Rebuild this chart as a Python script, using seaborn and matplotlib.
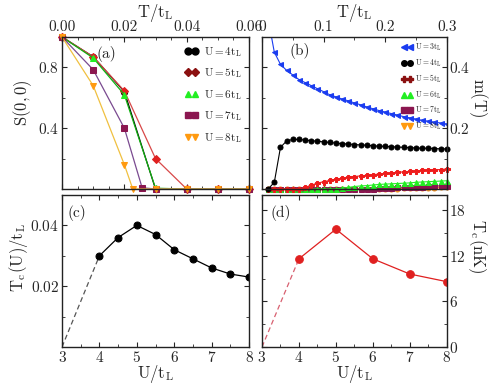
import matplotlib
matplotlib.use("Agg")
import matplotlib.pyplot as plt
import seaborn as sns
from matplotlib.lines import Line2D
from matplotlib.ticker import AutoMinorLocator, FormatStrFormatter, FixedLocator

# ---- panel (a): S(0,0) vs T/t_L ----
T_a = [0.0, 0.01, 0.02, 0.03, 0.04, 0.05, 0.06]
S_U4 = [1.0, 0.87, 0.64, 0.0, 0.0, 0.0, 0.0]
S_U5 = [1.0, 0.87, 0.645, 0.2, 0.0, 0.0, 0.0]
S_U6 = [1.0, 0.862, 0.62, 0.005, 0.0, 0.0, 0.0]
T_a7 = [0.0, 0.01, 0.02, 0.0257, 0.03, 0.04, 0.05, 0.06]
S_U7 = [1.0, 0.785, 0.40, 0.008, 0.0, 0.0, 0.0, 0.0]
T_a8 = [0.0, 0.01, 0.02, 0.0227, 0.03, 0.04, 0.05, 0.06]
S_U8 = [1.0, 0.68, 0.16, 0.0, 0.0, 0.0, 0.0, 0.0]

# ---- panel (b): m(T) vs T/t_L ----
T_b = [0.01, 0.02, 0.03, 0.04, 0.05, 0.06, 0.07, 0.08, 0.09, 0.10,
       0.11, 0.12, 0.13, 0.14, 0.15, 0.16, 0.17, 0.18, 0.19, 0.20,
       0.21, 0.22, 0.23, 0.24, 0.25, 0.26, 0.27, 0.28, 0.29, 0.30]
m_U3 = [0.56, 0.45, 0.41, 0.39, 0.375, 0.36, 0.35, 0.34, 0.33, 0.32,
        0.31, 0.303, 0.296, 0.29, 0.283, 0.277, 0.27, 0.264, 0.258, 0.253,
        0.248, 0.243, 0.238, 0.234, 0.23, 0.226, 0.223, 0.22, 0.217, 0.214]
m_U4 = [0.0, 0.022, 0.137, 0.158, 0.163, 0.163, 0.161, 0.159, 0.157, 0.155,
        0.153, 0.151, 0.149, 0.148, 0.146, 0.145, 0.144, 0.142, 0.141, 0.140,
        0.139, 0.138, 0.137, 0.136, 0.135, 0.134, 0.134, 0.133, 0.132, 0.132]
m_U5 = [0.0, 0.0, 0.0, 0.0, 0.0, 0.0, 0.005, 0.013, 0.019, 0.024,
        0.028, 0.032, 0.035, 0.038, 0.041, 0.043, 0.045, 0.047, 0.049, 0.051,
        0.053, 0.055, 0.056, 0.058, 0.059, 0.061, 0.062, 0.063, 0.064, 0.066]
m_U6 = [0.0, 0.0, 0.0, 0.0, 0.0, 0.0, 0.0, 0.0, 0.0, 0.0,
        0.0, 0.0, 0.003, 0.005, 0.008, 0.010, 0.011, 0.013, 0.015, 0.016,
        0.017, 0.018, 0.019, 0.020, 0.022, 0.023, 0.024, 0.025, 0.026, 0.027]
m_U7 = [0.0, 0.0, 0.0, 0.0, 0.0, 0.0, 0.0, 0.0, 0.0, 0.0,
        0.0, 0.0, 0.0, 0.0, 0.0, 0.0, 0.0, 0.001, 0.002, 0.003,
        0.004, 0.005, 0.006, 0.007, 0.007, 0.008, 0.009, 0.010, 0.010, 0.011]
m_U8 = [0.0, 0.0, 0.0, 0.0, 0.0, 0.0, 0.0, 0.0, 0.0, 0.0,
        0.0, 0.0, 0.0, 0.0, 0.0, 0.0, 0.0, 0.0, 0.0, 0.0,
        0.001, 0.001, 0.002, 0.002, 0.003, 0.003, 0.004, 0.004, 0.005, 0.005]

# ---- panel (c): Tc/t_L vs U/t_L ----
U_c = [4.0, 4.5, 5.0, 5.5, 6.0, 6.5, 7.0, 7.5, 8.0]
Tc_c = [0.030, 0.036, 0.040, 0.037, 0.032, 0.029, 0.026, 0.024, 0.023]

# ---- panel (d): Tc (nK) vs U/t_L ----
U_d = [4, 5, 6, 7, 8]
Tc_d = [11.6, 15.5, 11.6, 9.6, 8.6]

sns.set_style("ticks")
plt.rcParams['font.family'] = ['cmr10', 'DejaVu Serif']
plt.rcParams['mathtext.fontset'] = 'cm'
plt.rcParams['axes.formatter.use_mathtext'] = True
plt.rcParams['axes.unicode_minus'] = False
plt.rcParams['font.size'] = 11

fig = plt.figure(figsize=(4.91, 3.92), dpi=100)
ax_a = fig.add_axes([0.1263, 0.5179, 0.3809, 0.3878])
ax_b = fig.add_axes([0.5336, 0.5179, 0.3762, 0.3878])
ax_c = fig.add_axes([0.1263, 0.1148, 0.3809, 0.3878])
ax_d = fig.add_axes([0.5336, 0.1148, 0.3762, 0.3878])

for ax in (ax_a, ax_b, ax_c, ax_d):
    for s in ax.spines.values():
        s.set_linewidth(1.0)
        s.set_color('#222222')
    ax.tick_params(which='both', direction='in', top=True, bottom=True,
                   left=True, right=True, labelsize=11, pad=2)
    ax.tick_params(which='major', length=3.5)
    ax.tick_params(which='minor', length=2)

# panel (a)
series_a = [
    (T_a, S_U4, 'black', 'black', 'o', r'$\mathrm{U = 4t_L}$'),
    (T_a, S_U5, '#d84848', '#e02020', 'D', r'$\mathrm{U = 5t_L}$'),
    (T_a, S_U6, '#10b010', '#22ee22', '^', r'$\mathrm{U = 6t_L}$'),
    (T_a7, S_U7, '#7a4a90', '#8b1650', 's', r'$\mathrm{U = 7t_L}$'),
    (T_a8, S_U8, '#f0c040', '#ff9a10', 'v', r'$\mathrm{U = 8t_L}$'),
]
for x, y, lc, mc, mk, lab in series_a:
    sns.lineplot(x=x, y=y, ax=ax_a, color=lc, marker=mk, markersize=4.5,
                 markerfacecolor=mc, markeredgecolor=mc, lw=0.9,
                 clip_on=False, estimator=None, sort=False)
leg_a_colors = ['black', '#8b1010', '#22ee22', '#8b1650', '#ff9a10']
leg_a_sizes = [5, 4.2, 5, 4.6, 5]
handles_a = [Line2D([], [], ls='none', marker=s[4], color=c, markersize=ms)
             for s, c, ms in zip(series_a, leg_a_colors, leg_a_sizes)]
ax_a.legend(handles_a, [s[5] for s in series_a], loc='upper right',
            numpoints=2, frameon=False, fontsize=8, handlelength=1.25,
            handletextpad=0.45, labelspacing=0.68, borderaxespad=0.3)
ax_a.set_xlim(0, 0.06)
ax_a.set_ylim(0, 1.0)
ax_a.set_xticks([0.0, 0.02, 0.04, 0.06])
ax_a.xaxis.set_major_formatter(FormatStrFormatter('%.2f'))
ax_a.xaxis.set_minor_locator(AutoMinorLocator(4))
ax_a.set_yticks([0.4, 0.8])
ax_a.yaxis.set_minor_locator(FixedLocator([0.2, 0.6]))
ax_a.tick_params(labeltop=True, labelbottom=False)
ax_a.set_xlabel('')
ax_a.set_ylabel('')
ax_a.text(0.5, 1.158, r'$\mathrm{T/t_L}$', transform=ax_a.transAxes,
          fontsize=12, ha='center', va='center')
ax_a.text(-0.21, 0.57, r'$\mathrm{S(0,0)}$', transform=ax_a.transAxes,
          fontsize=12, ha='center', va='center', rotation=90)
ax_a.text(0.185, 0.89, '(a)', transform=ax_a.transAxes, fontsize=11,
          va='center')

# panel (b)
series_b = [
    (m_U3, '#1a3cf0', '#1a3cf0', '<', r'$\mathrm{U = 3t_L}$'),
    (m_U4, 'black', 'black', 'o', r'$\mathrm{U = 4t_L}$'),
    (m_U5, '#ee1c1c', '#ee1c1c', 'P', r'$\mathrm{U = 5t_L}$'),
    (m_U6, '#22ee22', '#22ee22', '^', r'$\mathrm{U = 6t_L}$'),
    (m_U7, '#8b1650', '#8b1650', 's', r'$\mathrm{U = 7t_L}$'),
    (m_U8, '#f09020', '#f09020', 'o', r'$\mathrm{U = 8t_L}$'),
]
for y, lc, mc, mk, lab in series_b[::-1]:
    sns.lineplot(x=T_b, y=y, ax=ax_b, color=lc, marker=mk, markersize=3.6,
                 markerfacecolor=mc, markeredgecolor=mc, lw=0.8,
                 clip_on=(mk == '<'), estimator=None, sort=False)
leg_b_markers = ['<', 'o', 'P', '^', 's', 'v']
leg_b_colors = ['#1a3cf0', 'black', '#8b1010', '#22ee22', '#8b1650', '#ff9a10']
handles_b = [Line2D([], [], ls='none', marker=m, color=c, markersize=4)
             for m, c in zip(leg_b_markers, leg_b_colors)]
ax_b.legend(handles_b, [s[4] for s in series_b], loc='upper right',
            numpoints=2, frameon=False, fontsize=5.5, handlelength=1.3,
            handletextpad=0.4, labelspacing=0.55, borderaxespad=0.25)
ax_b.set_xlim(0, 0.3)
ax_b.set_ylim(0, 0.5)
ax_b.set_xticks([0.0, 0.1, 0.2, 0.3])
ax_b.set_xticklabels(['0', '0.1', '0.2', '0.3'])
ax_b.xaxis.set_minor_locator(AutoMinorLocator(2))
ax_b.set_yticks([0.2, 0.4])
ax_b.yaxis.set_minor_locator(FixedLocator([0.1, 0.3]))
ax_b.tick_params(labeltop=True, labelbottom=False, labelleft=False,
                 labelright=True)
ax_b.set_xlabel('')
ax_b.set_ylabel('')
ax_b.text(0.5, 1.158, r'$\mathrm{T/t_L}$', transform=ax_b.transAxes,
          fontsize=12, ha='center', va='center')
ax_b.text(1.17, 0.6, r'$\mathrm{m(T)}$', transform=ax_b.transAxes,
          fontsize=12, ha='center', va='center', rotation=-90)
ax_b.text(0.15, 0.91, '(b)', transform=ax_b.transAxes, fontsize=11,
          va='center')

# panel (c)
sns.lineplot(x=[3.0, U_c[0]], y=[0.0, Tc_c[0]], ax=ax_c, color='#555555',
             lw=0.9, estimator=None)
ax_c.lines[-1].set_linestyle((0, (4, 2.5)))
sns.lineplot(x=U_c, y=Tc_c, ax=ax_c, color='black', marker='o',
             markersize=5, markeredgecolor='black', lw=0.9, estimator=None)
ax_c.set_xlim(3, 8)
ax_c.set_ylim(0, 0.05)
ax_c.set_xticks([3, 4, 5, 6, 7, 8])
ax_c.xaxis.set_minor_locator(AutoMinorLocator(2))
ax_c.set_yticks([0.02, 0.04])
ax_c.yaxis.set_minor_locator(FixedLocator([0.01, 0.03]))
ax_c.set_xlabel(r'$\mathrm{U/t_L}$', fontsize=12, labelpad=-1)
ax_c.set_ylabel('')
ax_c.text(-0.23, 0.585, r'$\mathrm{T_c(U)/t_L}$', transform=ax_c.transAxes,
          fontsize=12, ha='center', va='center', rotation=90)
ax_c.text(0.03, 0.88, '(c)', transform=ax_c.transAxes, fontsize=11,
          va='center')

# panel (d)
sns.lineplot(x=[3.0, U_d[0]], y=[0.0, Tc_d[0]], ax=ax_d, color='#d86070',
             lw=0.9, estimator=None)
ax_d.lines[-1].set_linestyle((0, (4, 2.5)))
sns.lineplot(x=U_d, y=Tc_d, ax=ax_d, color='#e02020', marker='o',
             markersize=5.5, markeredgecolor='#e02020', lw=0.9,
             estimator=None)
ax_d.set_xlim(3, 8)
ax_d.set_ylim(0, 20)
ax_d.set_xticks([3, 4, 5, 6, 7, 8])
ax_d.xaxis.set_minor_locator(AutoMinorLocator(2))
ax_d.set_yticks([0, 6, 12, 18])
ax_d.yaxis.set_minor_locator(FixedLocator([3, 9, 15]))
ax_d.tick_params(labelleft=False, labelright=True)
ax_d.set_xlabel(r'$\mathrm{U/t_L}$', fontsize=12, labelpad=-1)
ax_d.set_ylabel('')
ax_d.text(1.165, 0.66, r'$\mathrm{T_c(nK)}$', transform=ax_d.transAxes,
          fontsize=12, ha='center', va='center', rotation=-90)
ax_d.text(0.045, 0.88, '(d)', transform=ax_d.transAxes, fontsize=11,
          va='center')

fig.savefig('out.png', dpi=100)
